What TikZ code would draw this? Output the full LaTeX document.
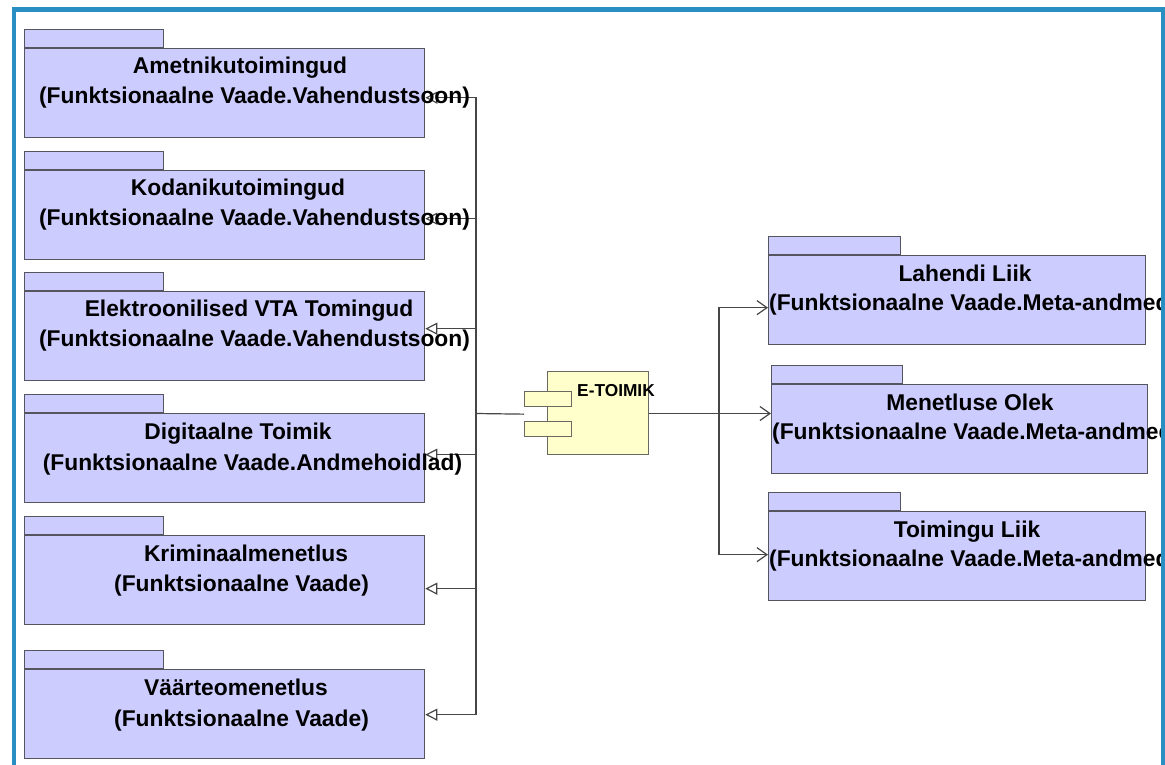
\documentclass[tikz,border=0pt]{standalone}
\usepackage{fontspec}
\setmainfont{Liberation Sans}
\usetikzlibrary{arrows.meta,calc}
\definecolor{framebl}{RGB}{41,143,194}
\definecolor{pkgfill}{RGB}{204,204,255}
\definecolor{pkgline}{RGB}{85,85,95}
\definecolor{cmpfill}{RGB}{255,255,204}
\definecolor{cmpline}{RGB}{105,105,95}
\definecolor{wire}{RGB}{70,70,70}
\begin{document}
\begin{tikzpicture}[x=1pt,y=-1pt,
  pkgbody/.style={draw=pkgline, fill=pkgfill, line width=1.3pt, inner sep=0pt,
    minimum width=#1, minimum height=89pt, anchor=north west},
  pkgtab/.style={draw=pkgline, fill=pkgfill, line width=1.3pt, inner sep=0pt,
    minimum width=#1, minimum height=18pt, anchor=south west},
  ttl/.style={anchor=base, inner sep=0pt, text=black,
    font=\bfseries\fontsize{22.8}{27}\selectfont},
  ttlw/.style={ttl, anchor=base west},
  cmpbody/.style={draw=cmpline, fill=cmpfill, line width=1.3pt, inner sep=0pt,
    minimum width=101pt, minimum height=83pt, anchor=north west},
  cmpport/.style={draw=cmpline, fill=cmpfill, line width=1.3pt, inner sep=0pt,
    minimum width=47pt, minimum height=15pt, anchor=north west},
  wire/.style={draw=wire, line width=1.2pt},
  gen/.style={wire, -{Triangle[open, length=12pt, width=12pt]}},
  dep/.style={wire, -{Straight Barb[length=10pt, width=14pt]}},
]
\useasboundingbox[fill=white] (0,0) rectangle (1165,764);

% packages on the left
\foreach \n/\y in {p1/48, p2/170, p3/291, p4/413, p5/535, p6/669} {
  \node[pkgbody=400pt] (\n) at (24,\y) {};
  \node[pkgtab=139pt] (\n-tab) at (\n.north west) {};
}

% packages on the right
\node[pkgbody=377pt] (r1) at (768,255) {};
\node[pkgtab=132pt] (r1-tab) at (r1.north west) {};
\node[pkgbody=376pt] (r2) at (771,384) {};
\node[pkgtab=131pt] (r2-tab) at (r2.north west) {};
\node[pkgbody=377pt] (r3) at (768,511) {};
\node[pkgtab=132pt] (r3-tab) at (r3.north west) {};

% component
\node[cmpbody] (comp) at (547,371) {};
\node[cmpport] (port1) at (524,391) {};
\node[cmpport] (port2) at (524,421) {};
\node[anchor=base, inner sep=0pt, font=\bfseries\fontsize{17.3}{20}\selectfont]
  (comp-l) at (616,396) {E-TOIMIK};

% connectors
\coordinate (jl) at (476,413.5);
\coordinate (jr) at (719,413.5);
\draw[wire] ($(port1.west)!0.5!(port2.west)$) -- (jl);
\draw[wire] (comp.east |- jr) -- (jr);

\draw[gen] (jl) |- ($(p1.east)+(0,4.5)$);
\draw[gen] (jl) |- ($(p2.east)+(0,3.5)$);
\draw[gen] (jl) |- ($(p3.east)+(0,-7.5)$);
\draw[gen] (jl) |- ($(p4.east)+(0,-3.5)$);
\draw[gen] (jl) |- ($(p5.east)+(0,8.5)$);
\draw[gen] (jl) |- ($(p6.east)+(0,0.5)$);

\draw[dep] (jr) |- ($(r1.west)+(0,7.5)$);
\draw[dep] (jr) |- (r2.west |- jr);
\draw[dep] (jr) |- ($(r3.west)+(0,-1.5)$);

% package titles, left
\node[ttl] (p1-a) at (240,73) {Ametnikutoimingud};
\node[ttl] (p1-b) at (254.5,103) {(Funktsionaalne Vaade.Vahendustsoon)};
\node[ttl] (p2-a) at (238,195) {Kodanikutoimingud};
\node[ttl] (p2-b) at (254.5,225) {(Funktsionaalne Vaade.Vahendustsoon)};
\node[ttl] (p3-a) at (249,316) {Elektroonilised VTA Tomingud};
\node[ttl] (p3-b) at (254.5,346.5) {(Funktsionaalne Vaade.Vahendustsoon)};
\node[ttl] (p4-a) at (238,439.5) {Digitaalne Toimik};
\node[ttl] (p4-b) at (252.5,470.5) {(Funktsionaalne Vaade.Andmehoidlad)};
\node[ttl] (p5-a) at (246,561) {Kriminaalmenetlus};
\node[ttl] (p5-b) at (241.5,591.5) {(Funktsionaalne Vaade)};
\node[ttl] (p6-a) at (236,695) {Väärteomenetlus};
\node[ttl] (p6-b) at (241.5,726) {(Funktsionaalne Vaade)};

% package titles, right (they run on under the frame)
\node[ttl] (r1-a) at (965,281) {Lahendi Liik};
\node[ttlw] (r1-b) at (769,310) {(Funktsionaalne Vaade.Meta-andmed)};
\node[ttl] (r2-a) at (970,410) {Menetluse Olek};
\node[ttlw] (r2-b) at (772,439) {(Funktsionaalne Vaade.Meta-andmed)};
\node[ttl] (r3-a) at (967,537) {Toimingu Liik};
\node[ttlw] (r3-b) at (769,566) {(Funktsionaalne Vaade.Meta-andmed)};

% frame
\fill[framebl] (12,7) rectangle (1170,12);
\fill[framebl] (12,7) rectangle (15.5,770);
\fill[framebl] (1161,7) rectangle (1170,770);
\end{tikzpicture}
\end{document}
